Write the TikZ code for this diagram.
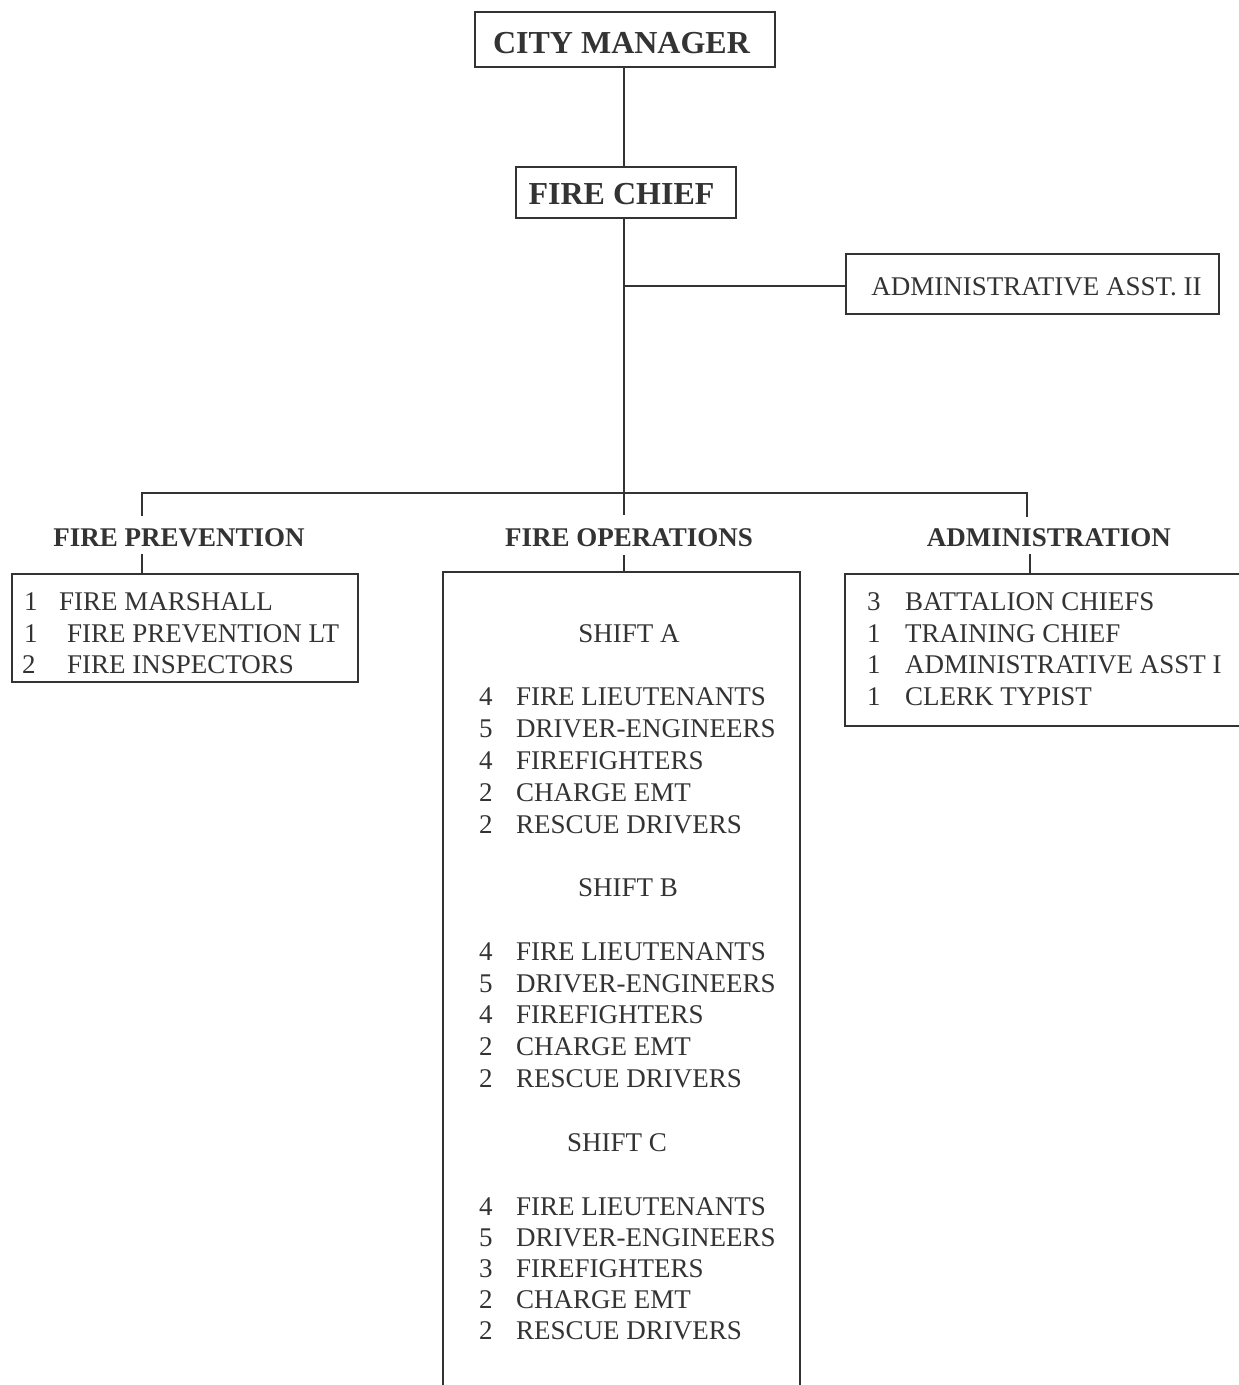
\documentclass[tikz,border=0pt]{standalone}
\usepackage{fontspec}
\setmainfont{Liberation Serif}
\definecolor{ink}{HTML}{333333}
\begin{document}
\begin{tikzpicture}[x=1pt,y=-1pt,
  ln/.style={draw=ink,line width=2pt},
  boxnode/.style={ln,rectangle,inner sep=0pt},
  title/.style={inner sep=0pt,anchor=base,text=ink,font=\fontsize{32}{38}\selectfont\bfseries},
  head/.style={inner sep=0pt,anchor=base,text=ink,font=\fontsize{27}{32}\selectfont\bfseries},
  txt/.style={inner sep=0pt,anchor=base west,text=ink,font=\fontsize{27}{32}\selectfont},
  ctxt/.style={inner sep=0pt,anchor=base,text=ink,font=\fontsize{27}{32}\selectfont}]
\useasboundingbox[fill=white] (0,0) rectangle (1239,1385);

% top boxes
\node[boxnode,minimum width=300pt,minimum height=55pt] (cm) at (625,39.5) {};
\node[title] (cmt) at (621.5,53) {CITY MANAGER};
\node[boxnode,minimum width=220pt,minimum height=51pt] (fc) at (626,192.5) {};
\node[title] (fct) at (621.5,204) {FIRE CHIEF};
\node[boxnode,minimum width=373pt,minimum height=60pt] (aa) at (1032.5,284) {};
\node[ctxt] (aat) at (1036.5,295) {ADMINISTRATIVE ASST. II};

% connectors
\coordinate (j1) at (624,286);
\coordinate (j2) at (624,493);
\coordinate (fpd) at (142,516);
\coordinate (add) at (1027,517);
\coordinate (fod) at (624,515);
\draw[ln] (cm.south -| j2) -- (fc.north -| j2);
\draw[ln] (fc.south -| j2) -- (j2);
\draw[ln] (j1) -- (j1 -| aa.west);
\draw[ln] (fpd) -- (fpd |- j2) -- (add |- j2) -- (add);
\draw[ln] (j2) -- (fod);

% headers
\node[head] (fph) at (179,546) {FIRE PREVENTION};
\node[head] (foh) at (629,546) {FIRE OPERATIONS};
\node[head] (adh) at (1049,546) {ADMINISTRATION};

% fire prevention box
\node[boxnode,minimum width=346pt,minimum height=108pt] (fpb) at (185,628) {};
\coordinate (fpt) at (142,554);
\draw[ln] (fpt) -- (fpt |- fpb.north);
\node[txt] (fp1n) at (24,610) {1};
\node[txt] (fp1) at (59,610) {FIRE MARSHALL};
\node[txt] (fp2n) at (24,642) {1};
\node[txt] (fp2) at (67,642) {FIRE PREVENTION LT};
\node[txt] (fp3n) at (22,673) {2};
\node[txt] (fp3) at (67,673) {FIRE INSPECTORS};

% fire operations box (continues below the page)
\node[inner sep=0pt,minimum width=357pt,minimum height=840pt,anchor=north west] (fob) at (443,572) {};
\draw[ln] (fob.south west) -- (fob.north west) -- (fob.north east) -- (fob.south east);
\coordinate (fot) at (624,555);
\draw[ln] (fot) -- (fot |- fob.north);

\node[ctxt] (sa) at (629,642) {SHIFT A};
\node[txt] (a1n) at (479,705) {4}; \node[txt] (a1) at (516,705) {FIRE LIEUTENANTS};
\node[txt] (a2n) at (479,737) {5}; \node[txt] (a2) at (516,737) {DRIVER-ENGINEERS};
\node[txt] (a3n) at (479,769) {4}; \node[txt] (a3) at (516,769) {FIREFIGHTERS};
\node[txt] (a4n) at (479,801) {2}; \node[txt] (a4) at (516,801) {CHARGE EMT};
\node[txt] (a5n) at (479,833) {2}; \node[txt] (a5) at (516,833) {RESCUE DRIVERS};

\node[ctxt] (sb) at (628,896) {SHIFT B};
\node[txt] (b1n) at (479,960) {4}; \node[txt] (b1) at (516,960) {FIRE LIEUTENANTS};
\node[txt] (b2n) at (479,992) {5}; \node[txt] (b2) at (516,992) {DRIVER-ENGINEERS};
\node[txt] (b3n) at (479,1023) {4}; \node[txt] (b3) at (516,1023) {FIREFIGHTERS};
\node[txt] (b4n) at (479,1055) {2}; \node[txt] (b4) at (516,1055) {CHARGE EMT};
\node[txt] (b5n) at (479,1087) {2}; \node[txt] (b5) at (516,1087) {RESCUE DRIVERS};

\node[ctxt] (sc) at (617,1151) {SHIFT C};
\node[txt] (c1n) at (479,1215) {4}; \node[txt] (c1) at (516,1215) {FIRE LIEUTENANTS};
\node[txt] (c2n) at (479,1246) {5}; \node[txt] (c2) at (516,1246) {DRIVER-ENGINEERS};
\node[txt] (c3n) at (479,1277) {3}; \node[txt] (c3) at (516,1277) {FIREFIGHTERS};
\node[txt] (c4n) at (479,1308) {2}; \node[txt] (c4) at (516,1308) {CHARGE EMT};
\node[txt] (c5n) at (479,1339) {2}; \node[txt] (c5) at (516,1339) {RESCUE DRIVERS};

% administration box (continues past right edge)
\node[boxnode,minimum width=410pt,minimum height=152pt,anchor=north west] (adb) at (844,573) {};
\coordinate (adt) at (1030,554);
\draw[ln] (adt) -- (adt |- adb.north);
\node[txt] (d1n) at (867,610) {3}; \node[txt] (d1) at (905,610) {BATTALION CHIEFS};
\node[txt] (d2n) at (867,642) {1}; \node[txt] (d2) at (905,642) {TRAINING CHIEF};
\node[txt] (d3n) at (867,673) {1}; \node[txt] (d3) at (905,673) {ADMINISTRATIVE ASST I};
\node[txt] (d4n) at (867,705) {1}; \node[txt] (d4) at (905,705) {CLERK TYPIST};
\end{tikzpicture}
\end{document}
